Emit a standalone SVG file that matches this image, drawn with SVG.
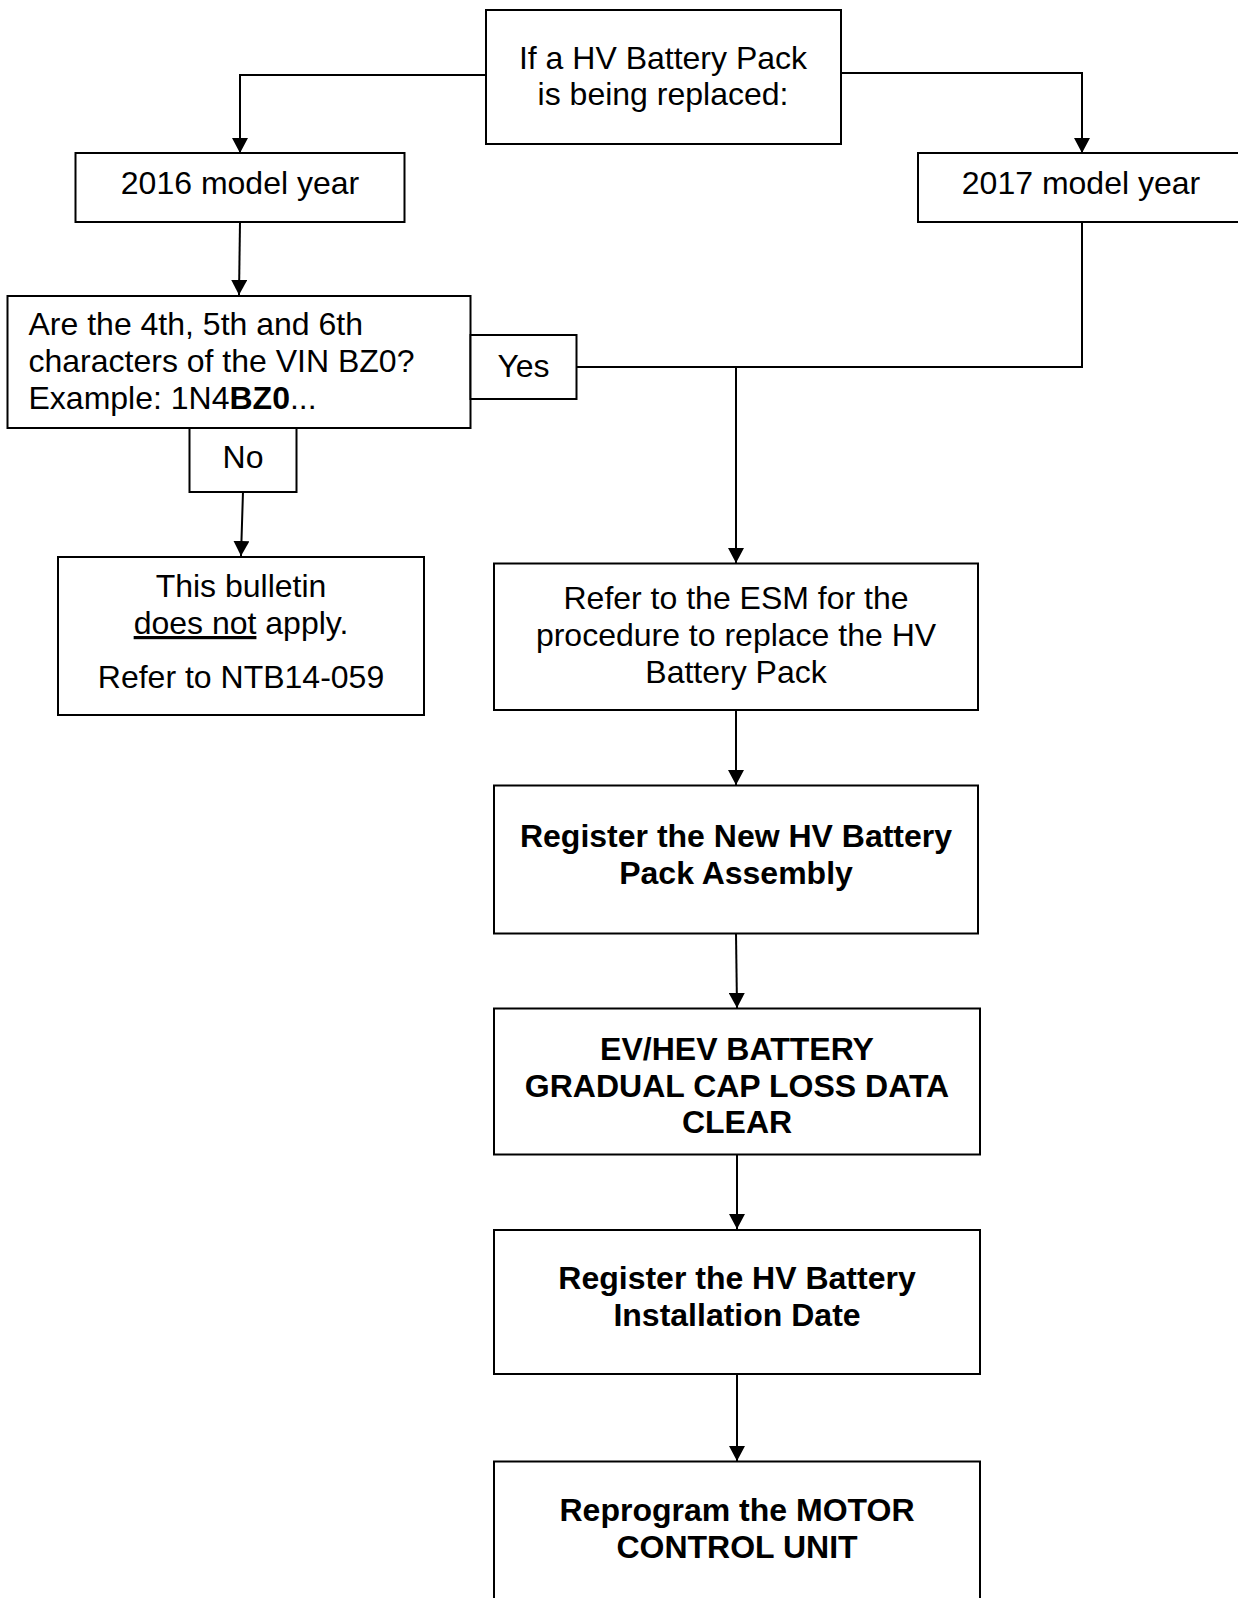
<svg xmlns="http://www.w3.org/2000/svg" width="1238" height="1598" viewBox="0 0 1238 1598">
<style>
.box{fill:#fff;stroke:#000;stroke-width:2}
.t{font-family:"Liberation Sans",Arial,sans-serif;font-size:32px;fill:#000}
.c{text-anchor:middle}
.b{font-weight:bold}
.ln{fill:none;stroke:#000;stroke-width:2}
</style>
<defs>
<marker id="ah" markerUnits="userSpaceOnUse" markerWidth="15" markerHeight="16" refX="15" refY="8" orient="auto" viewBox="0 0 15 16">
<path d="M0,0 L15,8 L0,16 Z" fill="#000"/>
</marker>
</defs>
<rect width="1238" height="1598" fill="#fff"/>
<g id="connectors">
<polyline class="ln" points="486,75 240,75 240,153" marker-end="url(#ah)"/>
<polyline class="ln" points="841,73 1082,73 1082,153" marker-end="url(#ah)"/>
<line class="ln" x1="240" y1="222" x2="239" y2="295" marker-end="url(#ah)"/>
<polyline class="ln" points="1082,222 1082,367 577,367"/>
<line class="ln" x1="736" y1="367" x2="736" y2="563" marker-end="url(#ah)"/>
<line class="ln" x1="243" y1="492" x2="241" y2="556" marker-end="url(#ah)"/>
<line class="ln" x1="736" y1="710" x2="736" y2="785" marker-end="url(#ah)"/>
<line class="ln" x1="736" y1="933" x2="737" y2="1008" marker-end="url(#ah)"/>
<line class="ln" x1="737" y1="1155" x2="737" y2="1229" marker-end="url(#ah)"/>
<line class="ln" x1="737" y1="1374" x2="737" y2="1461" marker-end="url(#ah)"/>
</g>
<g id="start">
<rect class="box" x="486" y="10" width="355" height="134"/>
<text class="t c" x="663" y="69">If a HV Battery Pack</text>
<text class="t c" x="663" y="105">is being replaced:</text>
</g>
<g id="my2016">
<rect class="box" x="75.5" y="153" width="329" height="69"/>
<text class="t c" x="240" y="194">2016 model year</text>
</g>
<g id="my2017">
<rect class="box" x="918" y="153" width="330" height="69"/>
<text class="t c" x="1081" y="194">2017 model year</text>
</g>
<g id="question">
<rect class="box" x="7.5" y="296" width="463" height="132"/>
<text class="t" x="28.5" y="335">Are the 4th, 5th and 6th</text>
<text class="t" x="28.5" y="372">characters of the VIN BZ0?</text>
<text class="t" x="28.5" y="409">Example: 1N4<tspan class="b">BZ0</tspan>...</text>
</g>
<g id="yes">
<rect class="box" x="470.5" y="335" width="106" height="64"/>
<text class="t c" x="523.5" y="377">Yes</text>
</g>
<g id="no">
<rect class="box" x="189.5" y="428" width="107" height="64"/>
<text class="t c" x="243" y="468">No</text>
</g>
<g id="notapply">
<rect class="box" x="58" y="557" width="366" height="158"/>
<text class="t c" x="241" y="597">This bulletin</text>
<text class="t c" x="241" y="634"><tspan text-decoration="underline">does not</tspan> apply.</text>
<text class="t c" x="241" y="688">Refer to NTB14-059</text>
</g>
<g id="esm">
<rect class="box" x="494" y="563.5" width="484" height="146.5"/>
<text class="t c" x="736" y="609">Refer to the ESM for the</text>
<text class="t c" x="736" y="646">procedure to replace the HV</text>
<text class="t c" x="736" y="683">Battery Pack</text>
</g>
<g id="register-new">
<rect class="box" x="494" y="785.5" width="484" height="148"/>
<text class="t c b" x="736" y="847">Register the New HV Battery</text>
<text class="t c b" x="736" y="884">Pack Assembly</text>
</g>
<g id="ev-clear">
<rect class="box" x="494" y="1008.5" width="486" height="146"/>
<text class="t c b" x="737" y="1060">EV/HEV BATTERY</text>
<text class="t c b" x="737" y="1097">GRADUAL CAP LOSS DATA</text>
<text class="t c b" x="737" y="1133">CLEAR</text>
</g>
<g id="register-date">
<rect class="box" x="494" y="1230" width="486" height="144"/>
<text class="t c b" x="737" y="1289">Register the HV Battery</text>
<text class="t c b" x="737" y="1326">Installation Date</text>
</g>
<g id="reprogram">
<rect class="box" x="494" y="1461.5" width="486" height="145"/>
<text class="t c b" x="737" y="1521">Reprogram the MOTOR</text>
<text class="t c b" x="737" y="1558">CONTROL UNIT</text>
</g>
</svg>
